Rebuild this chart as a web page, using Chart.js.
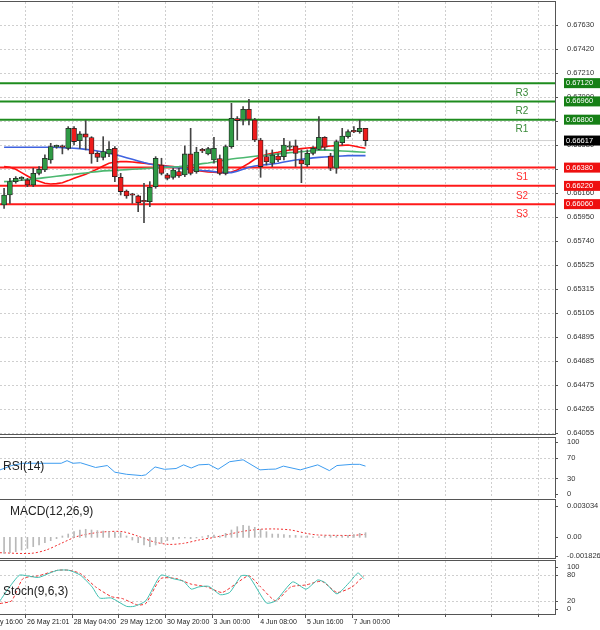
<!DOCTYPE html>
<html><head><meta charset="utf-8">
<script src="https://cdn.jsdelivr.net/npm/chart.js@4"></script>
<style>body{margin:0;background:#fff;width:600px;height:630px;position:relative;overflow:hidden}canvas{position:absolute;left:0}</style>
</head><body>
<canvas id="cMain" style="top:0px" width="600" height="436"></canvas>
<canvas id="cRsi" style="top:437px" width="600" height="61"></canvas>
<canvas id="cMacd" style="top:499px" width="600" height="60"></canvas>
<canvas id="cSto" style="top:560px" width="600" height="70"></canvas>
<script>
// ---------- data ----------
const opens  =[.66053,.66140,.66257,.66281,.66272,.66228,.66330,.66359,.66447,.66562,.66570,.66549,.66724,.66616,.66675,.66643,.66505,.66470,.66500,.66549,.66295,.66175,.66140,.66132,.66082,.66082,.66213,.66403,.66316,.66295,.66345,.66316,.66500,.66345,.66529,.66500,.66447,.66459,.66330,.66564,.66809,.66797,.66891,.66797,.66622,.66476,.66418,.66482,.66476,.66558,.66570,.66447,.66403,.66505,.66540,.66646,.66482,.66374,.66599,.66651,.66695,.66695,.66724];
const closes =[.66140,.66257,.66286,.66283,.66228,.66330,.66365,.66462,.66564,.66564,.66558,.66724,.66608,.66675,.66646,.66500,.66470,.66520,.66540,.66301,.66170,.66132,.66138,.66073,.66080,.66208,.66462,.66330,.66286,.66359,.66307,.66500,.66330,.66517,.66527,.66546,.66549,.66330,.66564,.66812,.66792,.66891,.66803,.66622,.66389,.66432,.66491,.66447,.66578,.66570,.66505,.66412,.66505,.66549,.66646,.66558,.66374,.66608,.66657,.66695,.66693,.66724,.66617];
const highs  =[.66199,.66286,.66301,.66301,.66286,.66374,.66389,.66491,.66593,.66578,.66578,.66739,.66739,.66695,.66792,.66651,.66520,.66651,.66608,.66564,.66330,.66184,.66155,.66140,.66243,.66257,.66476,.66462,.66330,.66374,.66374,.66570,.66724,.66558,.66549,.66558,.66646,.66491,.66578,.66943,.66827,.66914,.66978,.66812,.66637,.66535,.66535,.66500,.66637,.66608,.66622,.66535,.66535,.66564,.66827,.66651,.66505,.66622,.66724,.66710,.66739,.66797,.66724];
const lows   =[.66023,.66067,.66243,.66266,.66213,.66213,.66316,.66345,.66418,.66549,.66500,.66535,.66578,.66549,.66535,.66418,.66432,.66447,.66476,.66257,.66140,.66111,.66067,.65994,.65898,.66038,.66199,.66316,.66272,.66278,.66295,.66301,.66316,.66330,.66511,.66491,.66418,.66316,.66316,.66549,.66622,.66754,.66754,.66608,.66295,.66403,.66389,.66432,.66447,.66535,.66389,.66248,.66389,.66491,.66535,.66535,.66354,.66330,.66578,.66637,.66686,.66681,.66570];
const maBlue =[.66558,.66558,.66558,.66558,.66558,.66558,.66558,.66558,.66558,.66558,.66555,.66552,.66549,.66546,.66540,.66535,.66526,.66517,.66505,.66494,.66482,.66467,.66453,.66438,.66424,.66412,.66400,.66394,.66389,.66383,.66377,.66371,.66365,.66359,.66354,.66351,.66345,.66339,.66336,.66336,.66348,.66365,.66383,.66394,.66400,.66406,.66412,.66418,.66429,.66438,.66447,.66453,.66459,.66465,.66470,.66473,.66476,.66479,.66482,.66485,.66485,.66485,.66485];
const maRed  =[.66389,.66383,.66365,.66336,.66307,.66278,.66260,.66243,.66237,.66240,.66248,.66266,.66286,.66304,.66321,.66345,.66368,.66394,.66418,.66429,.66432,.66432,.66429,.66424,.66418,.66412,.66406,.66400,.66394,.66389,.66380,.66371,.66362,.66354,.66348,.66342,.66339,.66336,.66336,.66342,.66359,.66389,.66418,.66453,.66476,.66494,.66505,.66514,.66526,.66535,.66540,.66546,.66552,.66555,.66558,.66564,.66570,.66573,.66575,.66578,.66570,.66558,.66549];
const maGreen=[.66257,.66260,.66266,.66269,.66275,.66281,.66286,.66292,.66298,.66304,.66310,.66316,.66321,.66327,.66333,.66339,.66345,.66351,.66354,.66356,.66359,.66362,.66365,.66368,.66371,.66374,.66377,.66380,.66383,.66386,.66389,.66394,.66400,.66406,.66415,.66421,.66429,.66438,.66447,.66456,.66462,.66467,.66473,.66479,.66485,.66488,.66494,.66500,.66505,.66511,.66514,.66520,.66523,.66529,.66532,.66535,.66532,.66529,.66526,.66523,.66520,.66517,.66514];
const levelNames=['R3','R2','R1','S1','S2','S3'];
const levelValues=[0.67120,0.66960,0.66800,0.66380,0.66220,0.66060];
const lastPrice=0.66617;
const priceTicks=[0.67630,0.67420,0.67210,0.67000,0.66790,0.66580,0.66370,0.66160,0.65950,0.65740,0.65525,0.65315,0.65105,0.64895,0.64685,0.64475,0.64265,0.64055];
const rsiX=[-0.7,1.3,3.2,7.2,9.8,10.8,11.8,13.1,15.7,17.7,19.0,21.0,23.6,24.3,25.9,27.5,29.5,30.8,32.1,33.4,35.1,36.7,38.7,41.0,43.9,45.3,46.6,47.9,50.8,53.8,55.8,57.1,59.7,61.0,62.0];
const rsiY=[46.4,54.7,59,59,59,64,59,60,51,54.7,42,38,35.5,37,52,47.5,49,56,50,56,57,47.5,62,65.6,46.4,47.5,48,53.6,46.4,56,45,54.7,57,57,53.6];
const macdHist=[-.00155,-.00149,-.00139,-.00123,-.00107,-.00090,-.00074,-.00052,-.00032,-.00013,.00013,.00032,.00055,.00071,.00078,.00071,.00065,.00061,.00055,.00052,.00045,.00013,-.00026,-.00052,-.00074,-.00090,-.00074,-.00058,-.00032,-.00019,-.00010,-.00006,-.00013,-.00006,.00006,.00019,.00023,.00013,.00039,.00071,.00103,.00116,.00110,.00097,.00078,.00055,.00032,.00032,.00026,.00019,.00019,.00013,.00013,.00006,.00006,.00013,.00019,.00013,.00013,.00019,.00026,.00039,.00045];
const macdSigX=[-0.7,4.6,7.2,9.8,12.4,15.1,17.7,20.3,22.9,25.6,28.2,30.8,33.4,36.1,38.7,41.3,43.9,46.6,49.2,51.8,53.8,57.1,59.7,62.0];
const macdSigY=[-.00149,-.00155,-.00123,-.00058,.00006,.00039,.00055,.00055,.00013,-.00042,-.00068,-.00058,-.00026,0,.00032,.00061,.00078,.00081,.00071,.00039,.00023,.00019,.00019,.00029];
const stoMainX=[-0.7,0.6,2.6,3.9,5.9,7.85,9.2,11.1,13.1,15.1,16.4,18.4,21.0,22.3,24.3,26.9,28.9,30.8,32.1,33.4,35.1,37.1,38.7,40.7,42.0,45.0,46.6,49.5,51.8,53.8,55.1,57.1,59.4,60.7,61.7];
const stoMainY=[20,46.1,80,78.7,74.8,85.2,91.7,91.7,80,52.6,26.5,26.5,7,7,20,80,72.2,65.7,47.4,52.6,53.9,34.3,39.6,78.7,77.4,14.8,20,64.3,47.4,68.9,62.4,36.3,65.7,85.2,72.2];
const stoSigX=[-0.7,1.3,3.25,5.9,9.2,11.1,13.1,15.7,18.4,20.3,22.9,24.3,26.9,29.5,32.1,34.8,37.4,40.0,42.0,44.0,46.6,49.2,51.8,54.5,57.1,59.7,61.7];
const stoSigY=[13.5,20,72.2,78.7,91.7,91.7,83.9,52.6,29.8,25.2,10.2,13.5,72.2,72.2,59.1,52.6,39.6,62.4,78.7,52.6,20,52.6,57.2,65.7,39.6,52.6,78.7];
const timeLabels=['25 May 16:00','26 May 21:01','28 May 04:00','29 May 12:00','30 May 20:00','3 Jun 00:00','4 Jun 08:00','5 Jun 16:00','7 Jun 00:00'];
const timeLabelIdx=[-4.4,3.6,11.6,19.6,27.6,35.6,43.6,51.6,59.6];

// ---------- helpers ----------
const XMIN=-0.7, XMAX=94.5;
const gridX=[];for(let k=-1;k<12;k++)gridX.push(3.6+8*k);
const FONT='"Liberation Sans", Arial, sans-serif';
const pts=(xs,ys)=>xs.map((x,i)=>({x,y:ys[i]}));
const idxPts=ys=>ys.map((y,i)=>({x:i,y}));

function panelPlugin(cfg){
  return {id:'panel',
    beforeDatasetsDraw(ch){
      const {ctx,chartArea:a,scales:{x,y}}=ch;
      ctx.save();ctx.strokeStyle='#cfcfcf';ctx.lineWidth=1;ctx.setLineDash([2,2]);
      gridX.forEach(g=>{const px=Math.round(x.getPixelForValue(g))+.5;if(px>a.left&&px<a.right){ctx.beginPath();ctx.moveTo(px,a.top);ctx.lineTo(px,a.bottom);ctx.stroke();}});
      (cfg.grid||[]).forEach(v=>{const py=Math.round(y.getPixelForValue(v))+.5;ctx.beginPath();ctx.moveTo(a.left,py);ctx.lineTo(a.right,py);ctx.stroke();});
      ctx.restore();
    },
    afterDraw(ch){
      const {ctx,chartArea:a,scales:{x,y}}=ch;
      ctx.save();
      ctx.strokeStyle='#555';ctx.lineWidth=1;
      ctx.strokeRect(a.left-0.5,a.top-0.5,a.right-a.left+1,a.bottom-a.top+1);
      ctx.fillStyle='#333';ctx.font='7.5px '+FONT;ctx.textBaseline='middle';ctx.textAlign='left';
      ctx.strokeStyle='#555';
      cfg.ticks.forEach((v,i)=>{const py=y.getPixelForValue(v);
        ctx.beginPath();ctx.moveTo(a.right,Math.round(py)+.5);ctx.lineTo(a.right+3,Math.round(py)+.5);ctx.stroke();
        ctx.fillText(cfg.fmt(v,i),a.right+12,py);});
      if(cfg.boxes)cfg.boxes.forEach(b=>{const py=y.getPixelForValue(b.v);
        ctx.fillStyle=b.bg;ctx.fillRect(a.right+9,py-5,37,10);
        ctx.fillStyle='#fff';ctx.fillText(b.v.toFixed(5),a.right+11,py);});
      if(cfg.levelLabels)cfg.levelLabels.forEach(l=>{const py=y.getPixelForValue(l.v);
        ctx.fillStyle=l.c;ctx.font='10px '+FONT;ctx.textAlign='center';ctx.fillText(l.t,l.xpx,py+10);});
      if(cfg.title){ctx.fillStyle='#222';ctx.font='12px '+FONT;ctx.textAlign='left';ctx.fillText(cfg.title,cfg.tx,cfg.ty);}
      if(cfg.xlabels){ctx.fillStyle='#222';ctx.font='7px '+FONT;ctx.textAlign='left';ctx.textBaseline='middle';
        timeLabels.forEach((t,i)=>{const px=x.getPixelForValue(timeLabelIdx[i]);
          ctx.beginPath();ctx.moveTo(Math.round(px)+.5,a.bottom);ctx.lineTo(Math.round(px)+.5,a.bottom+4);ctx.stroke();
          ctx.fillText(t,px+2,a.bottom+8);});
        gridX.forEach(g=>{const px=Math.round(x.getPixelForValue(g))+.5;if(px<a.right){ctx.beginPath();ctx.moveTo(px,a.bottom);ctx.lineTo(px,a.bottom+3);ctx.stroke();}});
      }
      ctx.restore();
    }};
}
function baseOpts(ymin,ymax,pad){
  return {responsive:false,animation:false,
    layout:{padding:Object.assign({left:0,right:45,top:0,bottom:0},pad)},
    plugins:{legend:{display:false},tooltip:{enabled:false}},
    scales:{x:{type:'linear',display:false,min:XMIN,max:XMAX,offset:false,grid:{offset:false}},
            y:{display:false,min:ymin,max:ymax}}};
}

// ---------- main ----------
const wick=opens.map((o,i)=>({x:i,y:[lows[i],highs[i]]}));
const body=opens.map((o,i)=>({x:i,y:[o,closes[i]]}));
const bodyCol=opens.map((o,i)=>closes[i]<o?'#ee1c1c':'#2f9a45');
const levelCol=levelNames.map(n=>n[0]==='R'?'#1e8c1e':'#ff1a1a');
const levelSets=levelValues.map((v,i)=>({type:'line',data:[{x:XMIN,y:v},{x:XMAX,y:v}],borderColor:levelCol[i],borderWidth:2,pointRadius:0,order:5}));
new Chart(document.getElementById('cMain'),{
  data:{datasets:[
    {type:'line',data:[{x:XMIN,y:lastPrice},{x:XMAX,y:lastPrice}],borderColor:'#d0d0d0',borderWidth:1,pointRadius:0,order:6},
    ...levelSets,
    {type:'line',data:idxPts(maGreen),borderColor:'#4cb870',borderWidth:1.6,pointRadius:0,order:3},
    {type:'line',data:idxPts(maBlue),borderColor:'#3f63e0',borderWidth:1.6,pointRadius:0,order:3},
    {type:'line',data:idxPts(maRed),borderColor:'#ff1010',borderWidth:1.6,pointRadius:0,order:3},
    {type:'bar',data:wick,backgroundColor:'#444',barThickness:1,grouped:false,order:2},
    {type:'bar',data:body,backgroundColor:bodyCol,borderColor:'#222',borderWidth:0.8,borderSkipped:false,barThickness:5,minBarLength:1.5,grouped:false,order:1}
  ]},
  options:baseOpts(0.64046,0.67831,{top:2,bottom:2}),
  plugins:[panelPlugin({grid:priceTicks,ticks:priceTicks,fmt:v=>v.toFixed(5),
    boxes:[...levelValues.map((v,i)=>({v,bg:i<3?'#168016':'#ee1010'})),{v:lastPrice,bg:'#000'}],
    levelLabels:levelValues.map((v,i)=>({v,t:levelNames[i],c:i<3?'#3a8a3a':'#ff3030',xpx:522}))})]
});
// ---------- RSI ----------
new Chart(document.getElementById('cRsi'),{
  data:{datasets:[{type:'line',data:pts(rsiX,rsiY),borderColor:'#3d9cf0',borderWidth:1,pointRadius:0,tension:0}]},
  options:baseOpts(-7.2,107.2,{top:1,bottom:0}),
  plugins:[panelPlugin({grid:[70,30],ticks:[100,70,30,0],fmt:v=>String(v),title:'RSI(14)',tx:3,ty:30})]
});
// ---------- MACD ----------
new Chart(document.getElementById('cMacd'),{
  data:{datasets:[
    {type:'bar',data:idxPts(macdHist),backgroundColor:'#b8b8b8',barThickness:1,grouped:false},
    {type:'line',data:pts(macdSigX,macdSigY),borderColor:'#f03030',borderWidth:1,borderDash:[2,2],pointRadius:0,tension:0.3}
  ]},
  options:baseOpts(-0.00200,0.003615,{top:1,bottom:1}),
  plugins:[panelPlugin({grid:[],ticks:[0.003034,0,-0.001826],fmt:v=>v===0?'0.00':v.toFixed(6),title:'MACD(12,26,9)',tx:10,ty:13})]
});
// ---------- Stoch ----------
new Chart(document.getElementById('cSto'),{
  data:{datasets:[
    {type:'line',data:pts(stoMainX,stoMainY),borderColor:'#3fbfb0',borderWidth:1,pointRadius:0,tension:0.2},
    {type:'line',data:pts(stoSigX,stoSigY),borderColor:'#f03030',borderWidth:1,borderDash:[3,2],pointRadius:0,tension:0.2}
  ]},
  options:baseOpts(-11,113.4,{top:1,bottom:16}),
  plugins:[panelPlugin({grid:[80,20],ticks:[100,80,20,0],fmt:v=>String(v),title:'Stoch(9,6,3)',tx:3,ty:32,xlabels:true})]
});
</script></body></html>
